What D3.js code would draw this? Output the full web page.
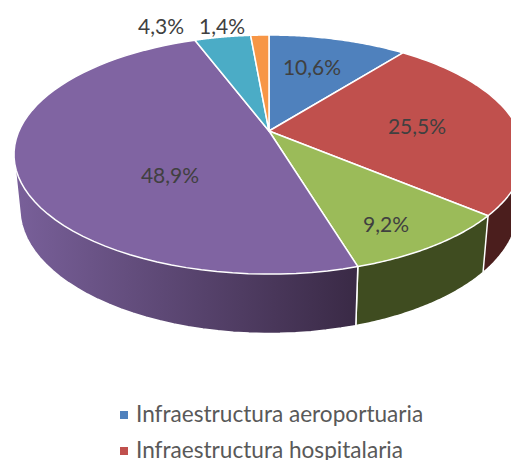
<!DOCTYPE html>
<html>
<head>
<meta charset="utf-8">
<script src="https://cdn.jsdelivr.net/npm/d3@7"></script>
<style>
html,body{margin:0;padding:0;background:#fff;overflow:hidden}
svg{display:block;font-family:Lato,"Open Sans",sans-serif}
</style>
</head>
<body>
<svg id="chart" width="511" height="460"></svg>
<script>
// Data (clockwise from 12 o'clock)
const sliceValues = [10.6, 25.5, 9.2, 48.9, 4.3, 1.4];
const sliceLabels = ["10,6%", "25,5%", "9,2%", "48,9%", "4,3%", "1,4%"];
const sliceColors = ["#4f81bd", "#c0504d", "#9bbb59", "#8064a2", "#4bacc6", "#f79646"];
const legendNames = ["Infraestructura aeroportuaria", "Infraestructura hospitalaria"];

// Layout
const svg = d3.select("#chart");
const cx = 269, persp = 0.197;
const topPlane = {y0: 131, ay: 114.9, rx: 250};
const botPlane = {y0: 184, ay: 120, rx: 244.3};
const sideColors = ["#2d4a6c", "#4b1e1d", "#3f4c20", "url(#purpleSide)", "#2c6677", "#94582a"];
const labelAnchors = [[312, 66], [417, 125], [386, 223], [170, 174], [161, 25], [222, 25]];
const legendRows = [415, 451];

const project = (plane, a, r = 1) => {
  const u = Math.sin(a) * r, v = -Math.cos(a) * r, d = 1 - persp * v;
  return [cx + plane.rx * u / d, plane.y0 + plane.ay * v / d];
};
const arcs = d3.pie().value(d => d).sort(null)(sliceValues);
const line = d3.line();
const arcPoints = (plane, a0, a1) =>
  d3.range(0, 61).map(i => project(plane, a0 + (a1 - a0) * i / 60));

const defs = svg.append("defs");
const grad = defs.append("linearGradient").attr("id", "purpleSide")
  .attr("gradientUnits", "userSpaceOnUse").attr("x1", 14).attr("x2", 355).attr("y1", 0).attr("y2", 0);
grad.append("stop").attr("offset", 0).attr("stop-color", "#79609a");
grad.append("stop").attr("offset", 1).attr("stop-color", "#3a2a46");

// Side walls: the hull of a slice's top and bottom rims gives the true silhouette
svg.append("g").selectAll("path").data(arcs).join("path")
  .attr("d", d => line(d3.polygonHull([...arcPoints(topPlane, d.startAngle, d.endAngle),
                                       ...arcPoints(botPlane, d.startAngle, d.endAngle)])) + "Z")
  .attr("fill", (d, i) => sideColors[i])
  .attr("stroke", "#fff").attr("stroke-width", 1.5).attr("stroke-linejoin", "round");

// Top faces
svg.append("g").selectAll("path").data(arcs).join("path")
  .attr("d", d => line([[cx, topPlane.y0], ...arcPoints(topPlane, d.startAngle, d.endAngle)]) + "Z")
  .attr("fill", (d, i) => sliceColors[i])
  .attr("stroke", "#fff").attr("stroke-width", 1.5).attr("stroke-linejoin", "round");

// Data labels
svg.append("g").selectAll("text").data(sliceLabels).join("text")
  .attr("x", (d, i) => labelAnchors[i][0]).attr("y", (d, i) => labelAnchors[i][1])
  .attr("text-anchor", "middle").attr("dominant-baseline", "central")
  .attr("font-size", 21).attr("fill", "#404040").text(d => d);

// Legend
const rows = svg.append("g").selectAll("g").data(legendNames).join("g")
  .attr("transform", (d, i) => `translate(120,${legendRows[i]})`);
rows.append("rect").attr("x", 0).attr("y", -4).attr("width", 8).attr("height", 8)
  .attr("fill", (d, i) => sliceColors[i]);
rows.append("text").attr("x", 16).attr("y", 7).attr("font-size", 22.6).attr("fill", "#595959").text(d => d);
</script>
</body>
</html>
